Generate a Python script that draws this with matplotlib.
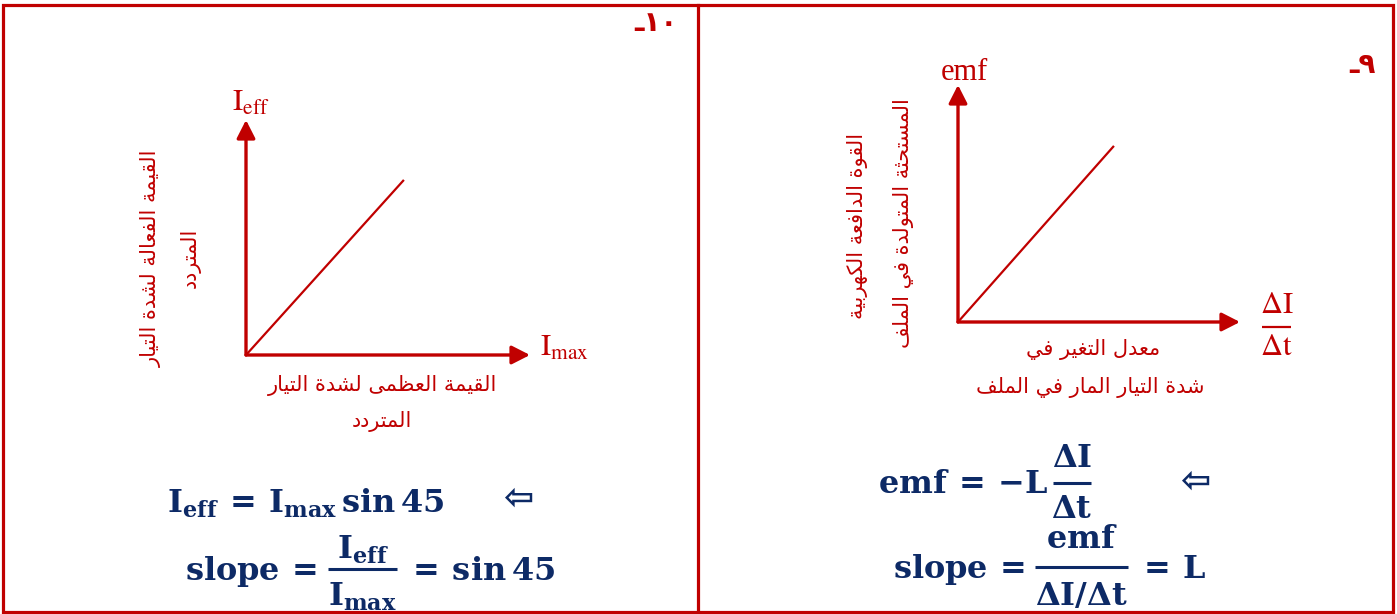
import matplotlib
matplotlib.use("Agg")
import matplotlib.pyplot as plt
from matplotlib.patches import Rectangle

# ---------------- data ----------------
left_line_x = [0, 5.56]
left_line_y = [0, 7.45]
right_line_x = [0, 5.53]
right_line_y = [0, 7.43]

left_xlabel = ["القيمة العظمى لشدة التيار", "المتردد"]
left_ylabel = ["القيمة الفعالة لشدة التيار", "المتردد"]
right_xlabel = ["معدل التغير في", "شدة التيار المار في الملف"]
right_ylabel = ["القوة الدافعة الكهربية", "المستحثة المتولدة في الملف"]
left_number = "ـ١٠"
right_number = "ـ٩"

left_eq1 = r'$\mathbf{I_{eff}}\,\mathbf{=}\,\mathbf{I_{max}\,sin\,45}$'
left_eq2 = [r'$\mathbf{slope}\,\mathbf{=}$', r'$\mathbf{I_{eff}}$', r'$\mathbf{I_{max}}$',
            r'$\mathbf{=}\,\mathbf{sin\,45}$']
right_eq1 = [r'$\mathbf{emf}\,\mathbf{=}\,\mathbf{-L}$', r'$\mathbf{\Delta I}$', r'$\mathbf{\Delta t}$', '']
right_eq2 = [r'$\mathbf{slope}\,\mathbf{=}$', r'$\mathbf{emf}$', r'$\mathbf{\Delta I/\Delta t}$',
             r'$\mathbf{=}\,\mathbf{L}$']

RED = "#C00000"
NAVY = "#0D2A66"

# ---------------- minimal Arabic shaping ----------------
_FORMS = {
    'ا': (0xFE8D, 0xFE8E, None, None),
    'ب': (0xFE8F, 0xFE90, 0xFE91, 0xFE92),
    'ة': (0xFE93, 0xFE94, None, None),
    'ت': (0xFE95, 0xFE96, 0xFE97, 0xFE98),
    'ث': (0xFE99, 0xFE9A, 0xFE9B, 0xFE9C),
    'ج': (0xFE9D, 0xFE9E, 0xFE9F, 0xFEA0),
    'ح': (0xFEA1, 0xFEA2, 0xFEA3, 0xFEA4),
    'خ': (0xFEA5, 0xFEA6, 0xFEA7, 0xFEA8),
    'د': (0xFEA9, 0xFEAA, None, None),
    'ذ': (0xFEAB, 0xFEAC, None, None),
    'ر': (0xFEAD, 0xFEAE, None, None),
    'ز': (0xFEAF, 0xFEB0, None, None),
    'س': (0xFEB1, 0xFEB2, 0xFEB3, 0xFEB4),
    'ش': (0xFEB5, 0xFEB6, 0xFEB7, 0xFEB8),
    'ص': (0xFEB9, 0xFEBA, 0xFEBB, 0xFEBC),
    'ض': (0xFEBD, 0xFEBE, 0xFEBF, 0xFEC0),
    'ط': (0xFEC1, 0xFEC2, 0xFEC3, 0xFEC4),
    'ظ': (0xFEC5, 0xFEC6, 0xFEC7, 0xFEC8),
    'ع': (0xFEC9, 0xFECA, 0xFECB, 0xFECC),
    'غ': (0xFECD, 0xFECE, 0xFECF, 0xFED0),
    'ف': (0xFED1, 0xFED2, 0xFED3, 0xFED4),
    'ق': (0xFED5, 0xFED6, 0xFED7, 0xFED8),
    'ك': (0xFED9, 0xFEDA, 0xFEDB, 0xFEDC),
    'ل': (0xFEDD, 0xFEDE, 0xFEDF, 0xFEE0),
    'م': (0xFEE1, 0xFEE2, 0xFEE3, 0xFEE4),
    'ن': (0xFEE5, 0xFEE6, 0xFEE7, 0xFEE8),
    'ه': (0xFEE9, 0xFEEA, 0xFEEB, 0xFEEC),
    'و': (0xFEED, 0xFEEE, None, None),
    'ى': (0xFEEF, 0xFEF0, None, None),
    'ي': (0xFEF1, 0xFEF2, 0xFEF3, 0xFEF4),
}
_DUAL = {c for c, f in _FORMS.items() if f[2] is not None}


def shape(s):
    out = []
    i = 0
    n = len(s)
    while i < n:
        c = s[i]
        if c not in _FORMS:
            out.append(c)
            i += 1
            continue
        prev = s[i - 1] if i > 0 else ''
        nxt = s[i + 1] if i + 1 < n else ''
        jp = prev in _DUAL
        if c == 'ل' and nxt == 'ا':
            out.append(chr(0xFEFC if jp else 0xFEFB))
            i += 2
            continue
        jn = (c in _DUAL) and (nxt in _FORMS)
        iso, fin, ini, med = _FORMS[c]
        if jp and jn:
            ch = med
        elif jp:
            ch = fin
        elif jn:
            ch = ini
        else:
            ch = iso
        out.append(chr(ch))
        i += 1
    return ''.join(out)[::-1]


plt.rcParams['font.family'] = ['DejaVu Sans']
plt.rcParams['mathtext.fontset'] = 'custom'
plt.rcParams['mathtext.rm'] = 'DejaVu Serif:bold'
plt.rcParams['mathtext.bf'] = 'DejaVu Serif:bold'
plt.rcParams['mathtext.it'] = 'DejaVu Serif:bold'

W, H = 1397, 614
fig = plt.figure(figsize=(W / 100, H / 100), dpi=100)
fig.patch.set_facecolor("white")

bg = fig.add_axes([0, 0, 1, 1])
bg.set_xlim(0, W)
bg.set_ylim(H, 0)
bg.axis("off")

# border and divider
bg.add_patch(Rectangle((3, 5), 1390, 607, fill=False, ec=RED, lw=2.3))
bg.plot([698, 698], [5, 612], color=RED, lw=2.3)

arabic_fs = 15
eq_fs = 23


def make_chart(rect, xs, ys):
    ax = fig.add_axes(rect)
    ax.set_xlim(0, 10)
    ax.set_ylim(0, 10)
    ax.axis("off")
    ap = dict(arrowstyle='-|>,head_length=0.55,head_width=0.28', mutation_scale=20,
              lw=2.4, color=RED, shrinkA=0, shrinkB=0)
    ax.annotate('', xy=(10, 0), xytext=(0, 0), arrowprops=ap, annotation_clip=False)
    ax.annotate('', xy=(0, 10), xytext=(0, 0), arrowprops=ap, annotation_clip=False)
    ax.plot(xs, ys, color=RED, lw=1.6, clip_on=False, solid_capstyle='butt')
    return ax


def fraction_eq(parts, lead_x, base_y, bar_x0, bar_x1, bar_y,
                num_base, den_base, tail_x, color=NAVY, fs=eq_fs, bar_lw=2.2, **kw):
    lead, num, den, tail = parts
    if lead:
        bg.text(lead_x, base_y, lead, fontsize=fs, color=color, ha='right', va='baseline', **kw)
    cx = (bar_x0 + bar_x1) / 2
    bg.plot([bar_x0, bar_x1], [bar_y, bar_y], color=color, lw=bar_lw, solid_capstyle='butt')
    bg.text(cx, num_base, num, fontsize=fs, color=color, ha='center', va='baseline', **kw)
    bg.text(cx, den_base, den, fontsize=fs, color=color, ha='center', va='baseline', **kw)
    if tail:
        bg.text(tail_x, base_y, tail, fontsize=fs, color=color, ha='left', va='baseline', **kw)


make_chart([246 / W, 1 - 355 / H, 284 / W, 235 / H], left_line_x, left_line_y)
make_chart([958 / W, 1 - 322 / H, 282 / W, 237 / H], right_line_x, right_line_y)

# ---- left panel texts ----
bg.text(251, 102, r'$\mathrm{I}_{\mathrm{eff}}$', math_fontfamily='stix', fontsize=22,
        color=RED, ha='center', va='center')
bg.text(564, 347, r'$\mathrm{I}_{\mathrm{max}}$', math_fontfamily='stix', fontsize=22,
        color=RED, ha='center', va='center')
bg.text(383, 386, shape(left_xlabel[0]), fontsize=arabic_fs, color=RED, ha='center', va='center')
bg.text(382, 422, shape(left_xlabel[1]), fontsize=arabic_fs, color=RED, ha='center', va='center')
bg.text(151, 258, shape(left_ylabel[0]), fontsize=arabic_fs, color=RED, ha='center', va='center',
        rotation=90)
bg.text(190, 258, shape(left_ylabel[1]), fontsize=arabic_fs, color=RED, ha='center', va='center',
        rotation=90)
bg.text(656, 23, left_number, fontsize=20, fontweight='bold', color=RED, ha='center', va='center')

bg.text(167, 513, left_eq1, fontsize=eq_fs, color=NAVY, ha='left', va='baseline')
bg.text(518, 499, "⇦", fontsize=26, fontweight='bold', color=NAVY, ha='center', va='center')
fraction_eq(left_eq2, 317, 580, 328, 397, 569, 559, 606, 406)

# ---- right panel texts ----
bg.text(964, 72, 'emf', fontfamily='Liberation Serif', fontsize=22, color=RED,
        ha='center', va='center')
fraction_eq([None, r'$\mathrm{\Delta I}$', r'$\mathrm{\Delta t}$', ''], 0, 0,
            1262, 1291, 327, 313, 355, 0, color=RED, fs=22, bar_lw=1.6, math_fontfamily='stix')
bg.text(1093, 350, shape(right_xlabel[0]), fontsize=arabic_fs, color=RED, ha='center', va='center')
bg.text(1090, 388, shape(right_xlabel[1]), fontsize=arabic_fs, color=RED, ha='center', va='center')
bg.text(858, 226, shape(right_ylabel[0]), fontsize=arabic_fs, color=RED, ha='center', va='center',
        rotation=90)
bg.text(903, 223, shape(right_ylabel[1]), fontsize=arabic_fs, color=RED, ha='center', va='center',
        rotation=90)
bg.text(1362, 65, right_number, fontsize=20, fontweight='bold', color=RED, ha='center', va='center')

fraction_eq(right_eq1, 1048, 493, 1053, 1091, 483, 467, 518, 0)
bg.text(1195, 482, "⇦", fontsize=26, fontweight='bold', color=NAVY, ha='center', va='center')
fraction_eq(right_eq2, 1025, 578, 1035, 1128, 567, 548, 605, 1137)

fig.savefig("out.png", dpi=100, facecolor="white")
